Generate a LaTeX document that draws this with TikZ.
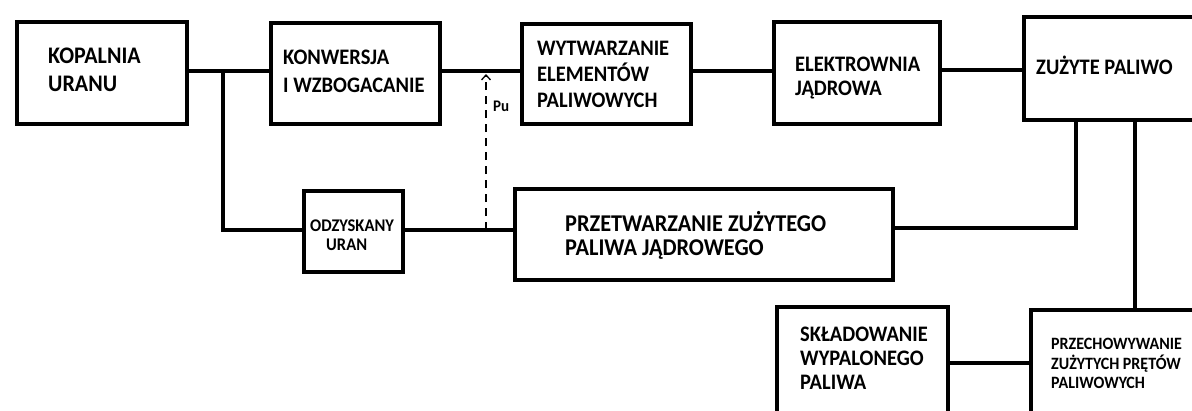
\documentclass[tikz,border=0pt]{standalone}
\usepackage{fontspec}
\setmainfont{Carlito}
\usetikzlibrary{arrows.meta}
\newcommand\boxlines[1]{\begin{tabular}[t]{@{}l@{}}#1\end{tabular}}
\newcommand\fsz[2]{\fontsize{#1}{#2}\selectfont\bfseries}
\tikzset{
  box/.style={draw=black, line width=4pt, rectangle, inner sep=0pt, fill=white},
  conn/.style={draw=black, line width=3.6pt},
  lbl/.style={anchor=base west, inner sep=0pt, text=black, yscale=1.08},
  dashconn/.style={draw=black, line width=1.5pt, dash pattern=on 8pt off 6pt, -{Straight Barb[length=5pt,width=9pt,line width=1.3pt]}},
}
\begin{document}
\begin{tikzpicture}[x=1pt,y=-1pt]
\useasboundingbox (0,0) rectangle (1192,410);
\fill[white] (0,0) rectangle (1192,410);
\clip (0,0) rectangle (1192,410);
% junction coordinates
\coordinate (j1) at (223,71);
\coordinate (j2) at (223,230);
\coordinate (pu0) at (486,230);
\coordinate (pu1) at (486,74);
\coordinate (k1) at (1076,228);
% boxes
\node[box, minimum width=170pt, minimum height=102pt] (kop) at (102,73) {};
\node[box, minimum width=169pt, minimum height=101pt] (konw) at (355.5,73.5) {};
\node[box, minimum width=169pt, minimum height=100pt] (wyt) at (606.5,74) {};
\node[box, minimum width=166pt, minimum height=102pt] (elek) at (857,73) {};
\node[box, minimum width=196pt, minimum height=103pt] (zuz) at (1122,68.5) {};
\node[box, minimum width=99pt, minimum height=81pt] (odz) at (353.5,231.5) {};
\node[box, minimum width=378pt, minimum height=91pt] (prz) at (704,234.5) {};
\node[box, minimum width=171pt, minimum height=113pt] (skl) at (862.5,363.5) {};
\node[box, minimum width=189pt, minimum height=110pt] (prch) at (1125.5,365) {};
% connectors
\draw[conn] (kop.east |- j1) -- (konw.west |- j1);
\draw[conn] (j1) -- (j2) -- (odz.west |- j2);
\draw[conn] (konw.east |- j1) -- (wyt.west |- j1);
\draw[conn] (wyt.east |- j1) -- (elek.west |- j1);
\draw[conn] (elek.east |- 0,70) -- (zuz.west |- 0,70);
\draw[conn] (odz.east |- j2) -- (prz.west |- j2);
\draw[conn] (zuz.south -| k1) -- (k1) -- (prz.east |- k1);
\draw[conn] (zuz.south -| 1135,0) -- (prch.north -| 1135,0);
\draw[conn] (skl.east |- 0,363) -- (prch.west |- 0,363);
\draw[dashconn] (pu0) -- (pu1);
% labels
\node[lbl] (tkop) at (48,63) {\fsz{22}{26}\boxlines{KOPALNIA\\URANU}};
\node[lbl] (tkonw) at (283,64) {\fsz{20.5}{26}\boxlines{KONWERSJA\\I WZBOGACANIE}};
\node[lbl] (twyt) at (537,55) {\fsz{20.5}{24.5}\boxlines{WYTWARZANIE\\ELEMENTÓW\\PALIWOWYCH}};
\node[lbl] (telek) at (795,71) {\fsz{20.5}{22.5}\boxlines{ELEKTROWNIA\\JĄDROWA}};
\node[lbl] (tzuz) at (1036,74) {\fsz{20.5}{24}ZUŻYTE PALIWO};
\node[lbl] (todz) at (310,231) {\fsz{16.5}{18}\boxlines{ODZYSKANY\\\hspace*{16pt}URAN}};
\node[lbl] (tprz) at (565,231) {\fsz{22.3}{23}\boxlines{PRZETWARZANIE ZUŻYTEGO\\PALIWA JĄDROWEGO}};
\node[lbl] (tskl) at (800,341) {\fsz{20.5}{22.5}\boxlines{SKŁADOWANIE\\WYPALONEGO\\PALIWA}};
\node[lbl] (tprch) at (1051,349) {\fsz{16}{17.5}\boxlines{PRZECHOWYWANIE\\ZUŻYTYCH PRĘTÓW\\PALIWOWYCH}};
\node[lbl] (tpu) at (493,111) {\fsz{15}{18}Pu};
\end{tikzpicture}
\end{document}
